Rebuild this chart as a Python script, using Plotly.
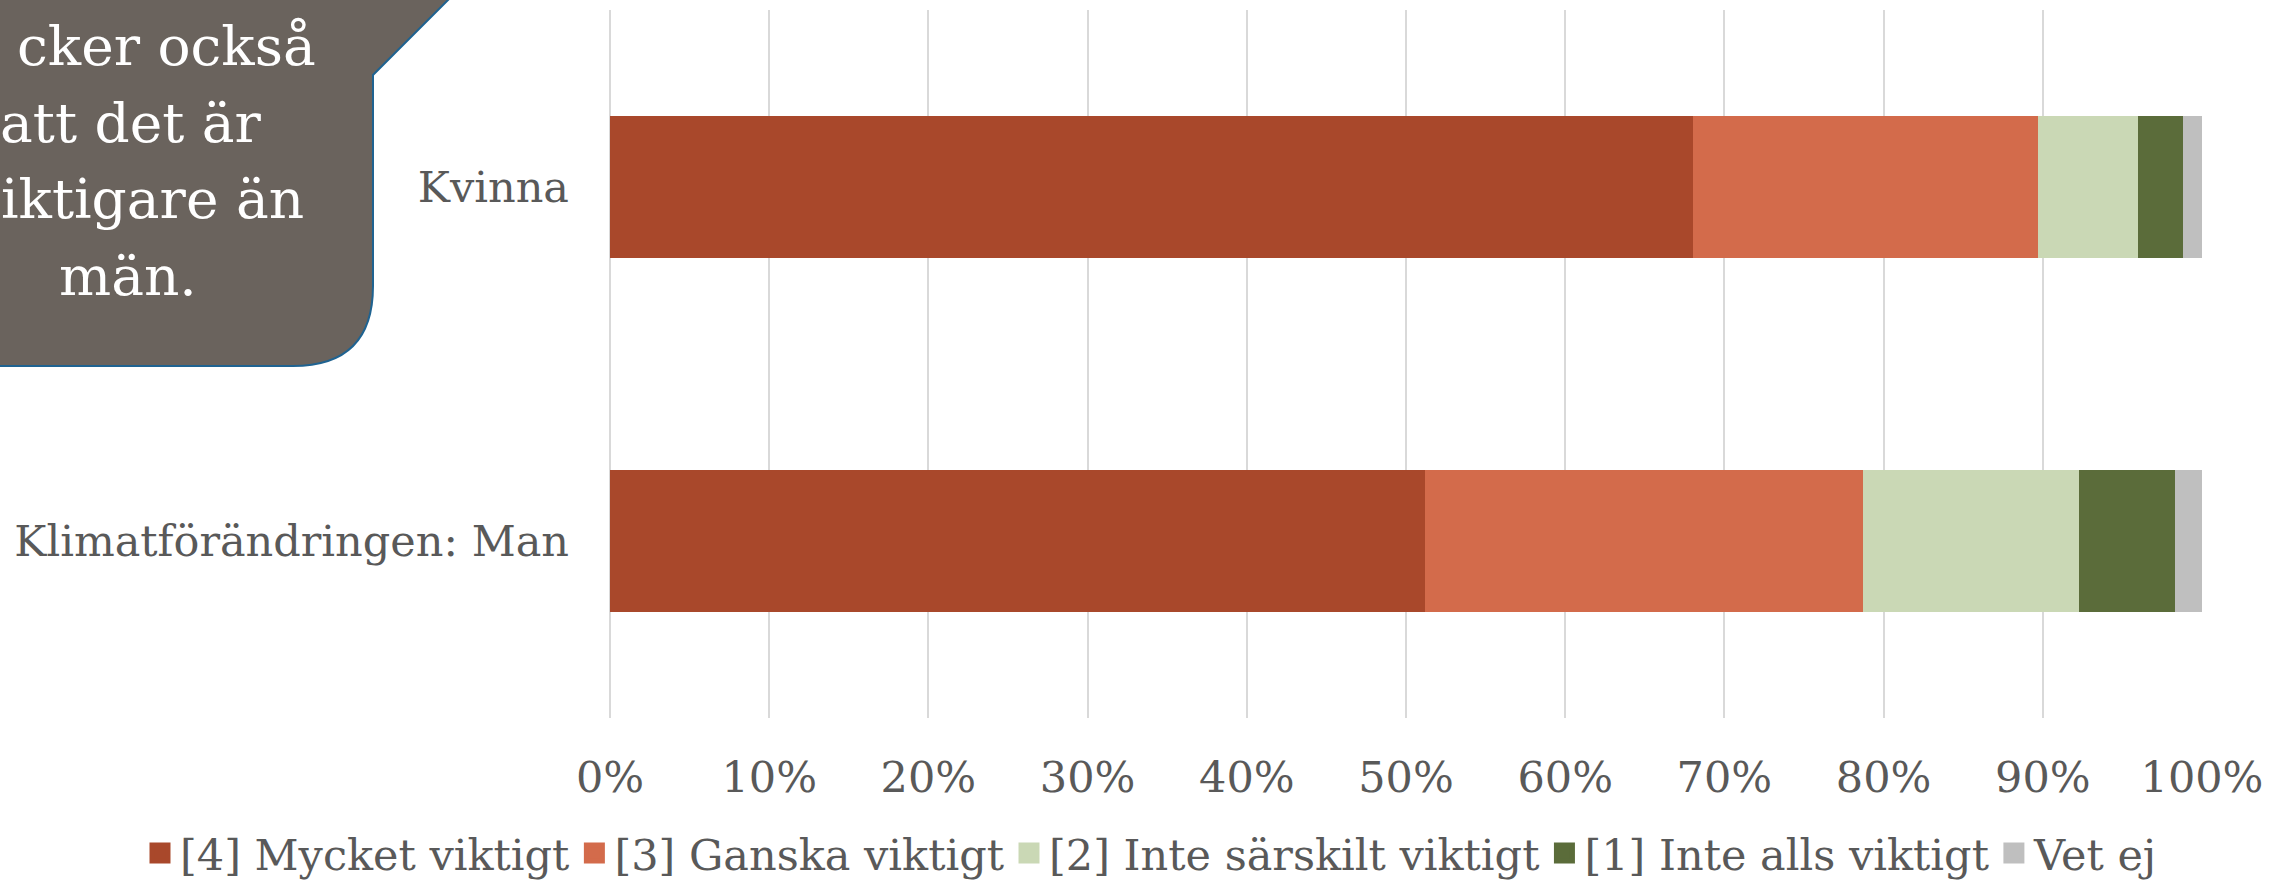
import plotly.graph_objects as go

# ---- data ----
categories = ["Klimatförändringen: Man", "Kvinna"]
series_names = [
    "[4] Mycket viktigt",
    "[3] Ganska viktigt",
    "[2] Inte särskilt viktigt",
    "[1] Inte alls viktigt",
    "Vet ej",
]
mycket = [51.2, 68.0]
ganska = [27.5, 21.7]
inte_sarskilt = [13.6, 6.3]
inte_alls = [6.0, 2.8]
vet_ej = [1.7, 1.2]
x_ticks = [0, 10, 20, 30, 40, 50, 60, 70, 80, 90, 100]
callout_lines = ["cker också", "att det är", "iktigare än", "män."]

colors = ["#A9482B", "#D36B4B", "#CAD8B5", "#5B6C3A", "#BFBFBF"]
values = [mycket, ganska, inte_sarskilt, inte_alls, vet_ej]

FONT = "DejaVu Serif"
GREY = "#595959"
W, H = 2270, 883
L, R, T, B = 610, 2202, 10, 718


def px(x):
    return (x - L) / (R - L)


def py(y):
    return (B - y) / (B - T)


fig = go.Figure()
for name, vals, col in zip(series_names, values, colors):
    fig.add_trace(go.Bar(
        y=categories, x=vals, name=name, orientation="h",
        marker=dict(color=col, line=dict(width=0)),
        legendgroup=name, showlegend=False,
        hoverinfo="x+y+name",
    ))
# legend-only entries with larger square swatches
for name, col in zip(series_names, colors):
    fig.add_trace(go.Scatter(
        x=[None], y=[None], mode="markers", name=name, legendgroup=name,
        marker=dict(symbol="square", size=16, color=col, line=dict(color=col, width=5)),
        showlegend=True, hoverinfo="skip",
    ))

# callout shape (decoration)
path = (
    f"M {px(-10)},{py(-40)} L {px(488)},{py(-40)} L {px(373)},{py(75)} "
    f"L {px(373)},{py(286)} Q {px(373)},{py(366)} {px(293)},{py(366)} "
    f"L {px(-10)},{py(366)} Z"
)
fig.add_shape(type="path", path=path, xref="paper", yref="paper",
              fillcolor="#6A635D", line=dict(color="#1F6391", width=2),
              layer="above")

ann_specs = [
    (callout_lines[0], 318, 46, "right"),
    (callout_lines[1], 131, 123, "center"),
    (callout_lines[2], 306, 199, "right"),
    (callout_lines[3], 128, 276, "center"),
]
for txt, xx, yy, anc in ann_specs:
    fig.add_annotation(text=txt, x=px(xx), y=py(yy), xref="paper", yref="paper",
                       xanchor=anc, yanchor="middle", showarrow=False,
                       font=dict(family=FONT, size=55, color="white"))

fig.update_layout(
    width=W, height=H,
    margin=dict(l=L, r=W - R, t=T, b=H - B, autoexpand=False),
    barmode="stack",
    bargap=0.6,
    plot_bgcolor="white",
    paper_bgcolor="white",
    font=dict(family=FONT, color=GREY),
    showlegend=True,
    legend=dict(
        orientation="h", xref="paper", yref="paper",
        x=px(140), xanchor="left", y=py(853), yanchor="middle",
        font=dict(family=FONT, size=43, color=GREY),
        traceorder="normal", itemwidth=30, itemsizing="trace",
    ),
    xaxis=dict(
        range=[0, 100], tickvals=x_ticks, ticktext=[f"{v}%" for v in x_ticks],
        showgrid=True, gridcolor="#D9D9D9", gridwidth=2,
        zeroline=True, zerolinecolor="#D9D9D9", zerolinewidth=2,
        showline=False, ticks="",
        tickfont=dict(family=FONT, size=43, color=GREY),
        ticklabelstandoff=30,
    ),
    yaxis=dict(
        categoryorder="array", categoryarray=categories,
        showgrid=False, zeroline=False, showline=False, ticks="",
        tickfont=dict(family=FONT, size=43, color=GREY),
        ticklabelstandoff=40,
    ),
)

fig.write_html("out.html", config={"displayModeBar": False},
               post_script="document.body.style.margin='0';document.body.style.overflow='hidden';")
